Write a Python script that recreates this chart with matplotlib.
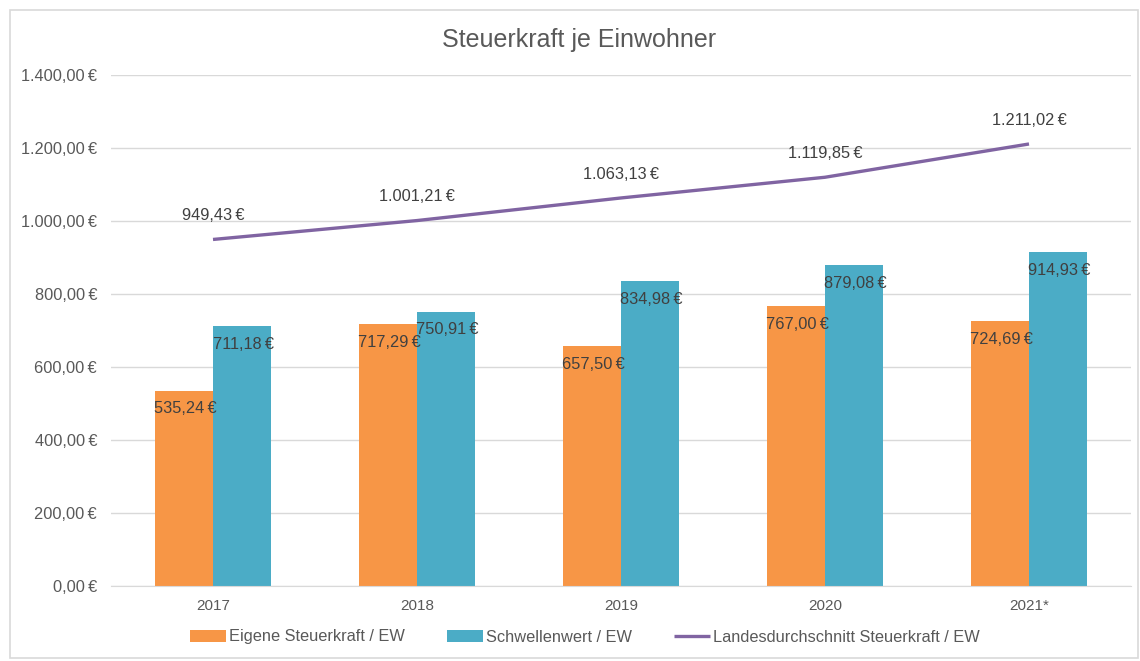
import matplotlib
matplotlib.use("Agg")
from matplotlib import pyplot as plt
from matplotlib.patches import Rectangle
import numpy as np

# Daten
jahre = ["2017", "2018", "2019", "2020", "2021*"]
eigene = [535.24, 717.29, 657.50, 767.00, 724.69]
schwelle = [711.18, 750.91, 834.98, 879.08, 914.93]
landes = [949.43, 1001.21, 1063.13, 1119.85, 1211.02]
yticks = [0, 200, 400, 600, 800, 1000, 1200, 1400]

ORANGE = "#F79646"
BLAU = "#4BACC6"
LILA = "#8064A2"
GRAU = "#595959"
TEXT = "#404040"

plt.rcParams["font.family"] = ["Liberation Sans", "DejaVu Sans"]


def euro(v):
    s = f"{v:,.2f}"
    s = s.replace(",", "X").replace(".", ",").replace("X", ".")
    return s + "\u2009€"


fig = plt.figure(figsize=(11.4, 6.61), dpi=100)
fig.patches.append(Rectangle((10 / 1140, 3 / 661), 1128 / 1140, 648 / 661,
                             transform=fig.transFigure, fill=False,
                             edgecolor="#D9D9D9", linewidth=1.2))
ax = fig.add_axes([111 / 1140, 1 - 586 / 661, 1020 / 1140, 511 / 661])

x = np.arange(len(jahre))
w = 0.284
b1 = ax.bar(x - w / 2, eigene, w, color=ORANGE, label="Eigene Steuerkraft / EW", zorder=2)
b2 = ax.bar(x + w / 2, schwelle, w, color=BLAU, label="Schwellenwert / EW", zorder=2)
ln, = ax.plot(x, landes, color=LILA, linewidth=2.4, label="Landesdurchschnitt Steuerkraft / EW",
              zorder=3, solid_capstyle="butt")

for bars, vals in ((b1, eigene), (b2, schwelle)):
    for r, v in zip(bars, vals):
        ax.annotate(euro(v), (r.get_x() + r.get_width() / 2, v), xytext=(1, -13),
                    textcoords="offset points", ha="center", va="center",
                    fontsize=11.8, color=TEXT, zorder=4)
for xi, v in zip(x, landes):
    ax.annotate(euro(v), (xi, v), xytext=(0, 17), textcoords="offset points",
                ha="center", va="center", fontsize=11.8, color=TEXT)

ax.set_xlim(-0.5, len(jahre) - 0.5)
ax.set_ylim(0, 1400)
ax.set_yticks(yticks)
ax.set_yticklabels([euro(v) for v in yticks])
ax.set_xticks(x)
ax.set_xticklabels(jahre)
ax.tick_params(axis="both", length=0, labelcolor=GRAU)
ax.tick_params(axis="y", pad=10, labelsize=11.8)
ax.tick_params(axis="x", pad=9, labelsize=11)
ax.grid(axis="y", color="#D9D9D9", linewidth=1, zorder=0)
for s in ("top", "right", "left"):
    ax.spines[s].set_visible(False)
ax.spines["bottom"].set_color("#D9D9D9")

fig.text(0.508, 1 - 40 / 661, "Steuerkraft je Einwohner", ha="center", va="center",
         fontsize=18, color=GRAU)

fig.legend(handles=[b1, b2, ln], loc="center", bbox_to_anchor=(585 / 1140, 1 - 637 / 661),
           ncol=3, frameon=False, fontsize=11.8, labelcolor=GRAU, handlelength=2.2,
           handleheight=0.8, handletextpad=0.15, columnspacing=2.6)

fig.savefig("out.png", dpi=100)
